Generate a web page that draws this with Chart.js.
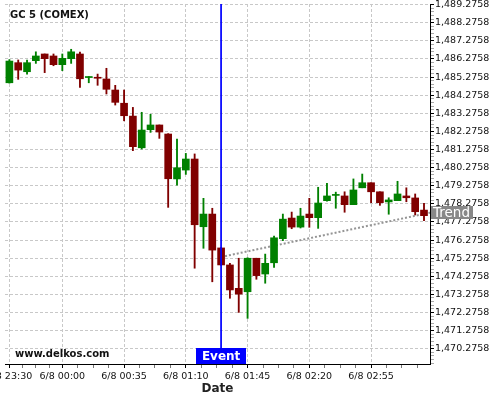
<!DOCTYPE html>
<html>
<head>
<meta charset="utf-8">
<script src="https://cdn.jsdelivr.net/npm/chart.js@4.4.0/dist/chart.umd.min.js"></script>
<style>
  html, body { margin: 0; padding: 0; background: #fff; }
  #wrap { width: 500px; height: 400px; }
</style>
</head>
<body>
<div id="wrap"><canvas id="chart" width="500" height="400"></canvas></div>
<script>
const chartTitle = "GC 5 (COMEX)";
const watermark = "www.delkos.com";

const times = [
  "23:30","23:35","23:40","23:45","23:50","23:55",
  "00:00","00:05","00:10","00:15","00:20","00:25","00:30","00:35","00:40","00:45","00:50","00:55",
  "01:00","01:05","01:10","01:15","01:20","01:25","01:30","01:35","01:40","01:45","01:50","01:55",
  "02:00","02:05","02:10","02:15","02:20","02:25","02:30","02:35","02:40","02:45","02:50","02:55",
  "03:00","03:05","03:10","03:15","03:20","03:25"
];
const opens = [
  1484.96,1486.07,1485.57,1486.18,1486.55,1486.44,1485.96,1486.29,1486.55,1485.25,1485.25,1485.17,
  1484.56,1483.83,1483.12,1481.37,1482.37,1482.63,1482.13,1479.65,1480.14,1480.75,1477.01,1477.71,
  1475.84,1474.90,1473.61,1473.42,1475.27,1474.40,1475.02,1476.35,1477.49,1476.99,1477.71,1477.51,
  1478.45,1478.74,1478.71,1478.23,1479.16,1479.44,1478.94,1478.38,1478.45,1478.71,1478.60,1477.93
];
const highs = [
  1486.24,1486.22,1486.22,1486.67,1486.55,1486.55,1486.55,1486.81,1486.66,1485.30,1485.44,1485.76,
  1484.82,1484.56,1483.60,1483.33,1483.22,1482.63,1482.15,1481.85,1481.06,1481.03,1478.58,1478.03,
  1475.86,1474.99,1475.27,1475.30,1475.27,1475.50,1476.50,1477.71,1477.82,1478.03,1478.58,1479.19,
  1479.41,1478.92,1478.94,1479.65,1479.92,1479.44,1478.94,1478.61,1479.52,1479.16,1478.82,1478.30
];
const lows = [
  1484.94,1485.15,1485.44,1486.03,1485.52,1485.90,1485.63,1486.03,1484.71,1484.96,1484.82,1484.34,
  1483.73,1482.86,1481.21,1481.30,1482.22,1481.89,1478.08,1479.30,1479.90,1474.72,1475.82,1473.97,
  1474.88,1473.06,1472.28,1471.95,1474.11,1473.89,1474.77,1476.24,1476.90,1476.94,1476.98,1476.92,
  1478.42,1478.03,1477.81,1478.23,1479.16,1478.34,1478.19,1477.70,1478.45,1478.39,1477.66,1477.34
];
const closes = [
  1486.16,1485.66,1486.07,1486.44,1486.29,1485.96,1486.31,1486.67,1485.18,1485.28,1485.21,1484.60,
  1483.88,1483.14,1481.43,1482.35,1482.63,1482.24,1479.66,1480.27,1480.75,1477.12,1477.71,1475.72,
  1474.90,1473.52,1473.29,1475.27,1474.31,1474.99,1476.40,1477.43,1476.99,1477.60,1477.51,1478.32,
  1478.71,1478.76,1478.23,1479.04,1479.44,1478.94,1478.34,1478.49,1478.82,1478.61,1477.84,1477.62
];

const xTickTimes = ["23:30","00:00","00:35","01:10","01:45","02:20","02:55"];
const xTickLabels = ["6/8 23:30","6/8 00:00","6/8 00:35","6/8 01:10","6/8 01:45","6/8 02:20","6/8 02:55"];
const yTicks = [
  1470.2758,1471.2758,1472.2758,1473.2758,1474.2758,1475.2758,1476.2758,1477.2758,1478.2758,1479.2758,
  1480.2758,1481.2758,1482.2758,1483.2758,1484.2758,1485.2758,1486.2758,1487.2758,1488.2758,1489.2758
];
const yMin = 1469.43, yMax = 1489.31;

const eventTime = "01:30";
const trendTimes = ["01:30", "03:30"];
const trendValues = [1475.34, 1477.82];

// minutes after 23:30
function toMin(s) {
  const [h, m] = s.split(":").map(Number);
  return ((h * 60 + m - 1410) + 1440) % 1440;
}

const GREEN = "#008000", RED = "#800000";
const FONT = "'DejaVu Sans', sans-serif";

const mins = times.map(toMin);
const colors = opens.map((o, i) => closes[i] >= o ? GREEN : RED);
const bodies = mins.map((t, i) => ({ x: t, y: [opens[i], closes[i]] }));
const wicks = mins.map((t, i) => ({ x: t, y: [lows[i], highs[i]] }));

// major ticks carry labels, minor ones only a tick mark
const xMajor = xTickTimes.map(toMin);
const xAll = [];
xMajor.forEach((t, k) => {
  xAll.push({ value: t, major: true });
  const next = k + 1 < xMajor.length ? xMajor[k + 1] : t + 35;
  const step = (next - t) / 4;
  for (let j = 1; j < 4; j++) if (t + step * j < 238) xAll.push({ value: t + step * j, major: false });
});
const yAll = [];
yTicks.forEach(v => {
  yAll.push({ value: v, major: true });
  for (let j = 1; j < 5; j++) {
    const mv = v - 0.2 * j;
    if (mv > yMin) yAll.push({ value: mv, major: false });
  }
});
yAll.sort((a, b) => a.value - b.value);

function fmt(v) {
  const [a, b] = v.toFixed(4).split(".");
  return a.replace(/\B(?=(\d{3})+$)/g, ",") + "." + b;
}

const overlay = {
  id: "overlay",
  afterDraw(chart) {
    const { ctx, chartArea: a, scales: { x, y } } = chart;
    ctx.save();
    ctx.fillStyle = "#111";
    ctx.font = "bold 10px " + FONT;
    ctx.textBaseline = "middle";
    ctx.textAlign = "left";
    ctx.fillText(chartTitle, 10, 15);
    ctx.fillText(watermark, 15, 354);

    // event label
    const ex = x.getPixelForValue(toMin(eventTime));
    ctx.font = "bold 12px " + FONT;
    const ew = ctx.measureText("Event").width + 12;
    ctx.fillStyle = "#0000ff";
    ctx.fillRect(Math.round(ex - ew / 2), a.bottom - 16, Math.round(ew), 16);
    ctx.fillStyle = "#fff";
    ctx.textAlign = "center";
    ctx.fillText("Event", ex, a.bottom - 7.5);

    // trend label at right edge
    const t0 = toMin(trendTimes[0]), t1 = toMin(trendTimes[1]);
    const edge = x.max;
    const tv = trendValues[0] + (trendValues[1] - trendValues[0]) * (edge - t0) / (t1 - t0);
    const ty = y.getPixelForValue(tv);
    ctx.font = "13.5px " + FONT;
    const tw = ctx.measureText("Trend").width + 5;
    ctx.fillStyle = "#888888";
    ctx.fillRect(a.right + 1, Math.round(ty - 6.5), Math.round(tw), 13);
    ctx.fillStyle = "#fff";
    ctx.textAlign = "left";
    ctx.fillText("Trend", a.right + 3, ty + 0.5);
    ctx.restore();
  }
};

new Chart(document.getElementById("chart"), {
  type: "bar",
  data: {
    datasets: [
      {
        type: "line", order: 0,
        data: [{ x: toMin(eventTime), y: yMax }, { x: toMin(eventTime), y: yMin }],
        borderColor: "#0000ff", borderWidth: 1, pointRadius: 0
      },
      {
        order: 1, data: bodies, backgroundColor: colors,
        barThickness: 7, minBarLength: 1, grouped: false, borderWidth: 0
      },
      {
        order: 2, data: wicks, backgroundColor: colors,
        barThickness: 1.2, grouped: false, borderWidth: 0
      },
      {
        type: "line", order: 3,
        data: trendTimes.map((t, i) => ({ x: toMin(t), y: trendValues[i] })),
        borderColor: "#959595", borderWidth: 2, borderDash: [2, 2], pointRadius: 0
      }
    ]
  },
  options: {
    responsive: false,
    animation: false,
    maintainAspectRatio: false,
    layout: { padding: { left: 5, top: 4, right: 0, bottom: 0 } },
    plugins: { legend: { display: false }, tooltip: { enabled: false } },
    scales: {
      x: {
        type: "linear", offset: false,
        min: -2.49, max: 238.4,
        afterBuildTicks: s => { s.ticks = xAll.map(t => ({ value: t.value, major: t.major })); },
        afterFit: s => { s.paddingLeft = 0; s.paddingRight = 0; s.height = 36; },
        ticks: {
          autoSkip: false, maxRotation: 0, padding: 3,
          font: { family: FONT, size: 9.5 }, color: "#111",
          callback: function (v) {
            const k = xMajor.findIndex(m => Math.abs(m - v) < 1e-6);
            return k >= 0 ? xTickLabels[k] : "";
          }
        },
        grid: {
          offset: false, tickLength: 4,
          color: c => (c.tick && c.tick.major) ? "#c8c8c8" : "rgba(0,0,0,0)",
          tickColor: c => (c.tick && c.tick.major) ? "#000" : "#777"
        },
        border: { color: "#000", width: 1, dash: [3, 2] },
        title: {
          display: true, text: "Date", color: "#222",
          font: { family: FONT, size: 12, weight: "bold" },
          padding: { top: 0, bottom: 4 }
        }
      },
      y: {
        type: "linear", position: "right",
        min: yMin, max: yMax,
        afterBuildTicks: s => { s.ticks = yAll.map(t => ({ value: t.value, major: t.major })); },
        afterFit: s => { s.width = 70; s.paddingTop = 0; s.paddingBottom = 0; },
        ticks: {
          autoSkip: false, padding: 1,
          font: { family: FONT, size: 9.5 }, color: "#111",
          callback: function (v) {
            const major = yTicks.some(m => Math.abs(m - v) < 1e-6);
            return major ? fmt(v) : "";
          }
        },
        grid: {
          tickLength: 4,
          color: c => (c.tick && c.tick.major) ? "#c8c8c8" : "rgba(0,0,0,0)",
          tickColor: c => (c.tick && c.tick.major) ? "#000" : "#aaa"
        },
        border: { color: "#000", width: 1, dash: [3, 2] }
      }
    }
  },
  plugins: [overlay]
});
</script>
</body>
</html>
